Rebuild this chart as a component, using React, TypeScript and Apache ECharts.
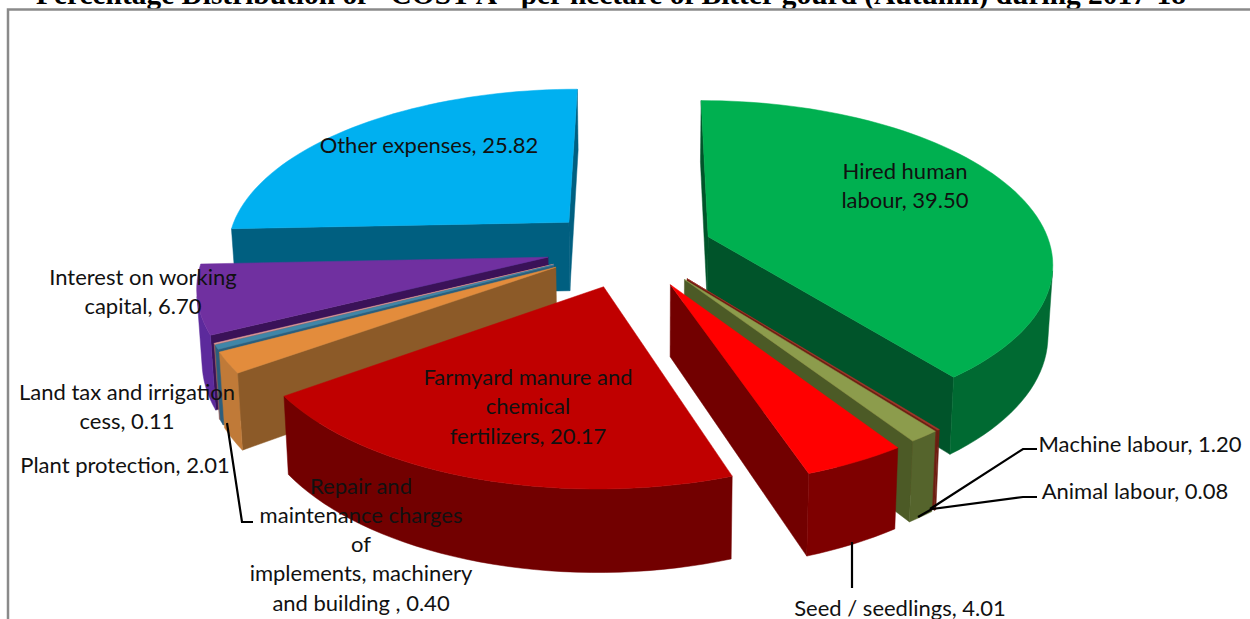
import React, { useEffect, useRef } from "react";
import * as echarts from "echarts";

const titleText = 'Percentage Distribution of "COST A" per hectare of Bitter gourd (Autumn) during 2017-18';

const categories = [
  "Hired human labour",
  "Animal labour",
  "Machine labour",
  "Seed / seedlings",
  "Farmyard manure and chemical fertilizers",
  "Plant protection",
  "Repair and maintenance charges of implements, machinery and building ",
  "Land tax and irrigation cess",
  "Interest on working capital",
  "Other expenses",
];
const seriesValues = [39.5, 0.08, 1.2, 4.01, 20.17, 2.01, 0.4, 0.11, 6.7, 25.82];

// back-to-front painting order of the slices
const paintOrder = [9, 8, 7, 6, 5, 4, 0, 1, 2, 3];

const topColors = ["#00B050", "#A8352A", "#8C9C4C", "#FF0000", "#C00000", "#E38C3C", "#3F86A8", "#D99694", "#7030A0", "#00B0F0"];
const curveColors = ["#006A32", "#6E1E12", "#55642C", "#7E0000", "#720000", "#C07A38", "#2A5F7E", "#96625F", "#5C2A9C", "#00688E"];
const radialColors = ["#00542A", "#6E1E12", "#4C5A26", "#720000", "#6A0000", "#8C5A28", "#2A5F7E", "#96625F", "#3A1258", "#005F80"];

// per-slice apex adjustment in screen pixels [dx, dy]
const apexNudge = [[5, -2], [8, 0], [8, 0], [5, 2], [-3, 2], [-9, -2], [-8, -2], [-8, -2], [-8, -2], [-8, -4]];

const labelLines: [string[], number, number][] = [
  [["Other expenses, 25.82"], 429, 144],
  [["Hired human", "labour, 39.50"], 905, 170],
  [["Interest on working", "capital, 6.70"], 143, 276],
  [["Land tax and irrigation", "cess, 0.11"], 127, 391],
  [["Plant protection, 2.01"], 125, 464],
  [["Farmyard manure and", "chemical", "fertilizers, 20.17"], 528, 376],
  [["Repair and", "maintenance charges", "of", "implements, machinery", "and building , 0.40"], 361, 485],
  [["Seed / seedlings, 4.01"], 900, 607],
  [["Machine labour, 1.20"], 1140, 443],
  [["Animal labour, 0.08"], 1135, 490],
];
const lineSteps = [29.5, 29.5, 29.5, 29, 29, 29.5, 29.3, 29.5, 29, 29];

const leaderLines: number[][][] = [
  [[1037, 449], [1023, 449], [930, 509]],
  [[1037, 497], [1023, 497], [932, 509], [918, 517]],
  [[852, 542], [852, 588]],
  [[227, 423], [242, 522], [253, 522]],
];

// perspective model of the tilted, exploded pie
const VIEW = { xc: 645, yVP: -985, depth: 1235, rx: 350, k: 0.13, h: 70, narrow: 0.012 };
const EXPLODE = 0.22;
const CENTER = { x: -0.04, z: 0 };
const WARP = (2 * Math.PI) / 180;
const RIM_X = 0.98;
const RIM_DZ = -4 / 160;

function project(X: number, Z: number, level: number): number[] {
  const s = 1 / (1 + VIEW.k * Z);
  return [
    VIEW.xc + VIEW.rx * X * s * (1 - VIEW.narrow * level),
    VIEW.yVP + (VIEW.depth + VIEW.h * level) * s,
  ];
}

function area(p: number[][]): number {
  let a = 0;
  for (let i = 0; i < p.length; i++) {
    const q = p[(i + 1) % p.length];
    a += p[i][0] * q[1] - q[0] * p[i][1];
  }
  return a / 2;
}

const total = seriesValues.reduce((a, b) => a + b, 0);
const startPct = seriesValues.map((_, i) => seriesValues.slice(0, i).reduce((a, b) => a + b, 0));

function sliceFaces(index: number, value: number) {
  const a0 = (startPct[index] / total) * Math.PI * 2;
  const a1 = a0 + (value / total) * Math.PI * 2;
  const mid = (a0 + a1) / 2;
  const ax = CENTER.x + EXPLODE * Math.sin(mid) + apexNudge[index][0] / VIEW.rx;
  const az = CENTER.z + EXPLODE * Math.cos(mid) - apexNudge[index][1] / 160;
  const steps = Math.max(2, Math.ceil((a1 - a0) / (Math.PI / 90)));
  const rim: number[][] = [];
  for (let i = 0; i <= steps; i++) {
    const raw = a0 + ((a1 - a0) * i) / steps;
    const a = raw - WARP * Math.sin(raw);
    rim.push([ax + RIM_X * Math.sin(a), az + Math.cos(a) + RIM_DZ]);
  }
  const outline = [[ax, az], ...rim];
  const faces: any[] = [];
  const poly = (pts: number[][], fill: string, w: number) => ({
    type: "polygon",
    silent: true,
    shape: { points: pts },
    style: { fill, stroke: fill, lineWidth: w },
  });
  const top = (p: number[]) => project(p[0], p[1], 0);
  const bot = (p: number[]) => project(p[0], p[1], 1);
  const addRadial = (P: number[], Q: number[], fill: string) => {
    const pts = [top(P), top(Q), bot(Q), bot(P)];
    if (area(pts) < 0) faces.push(poly(pts, fill, 0.5));
  };
  addRadial(outline[0], outline[1], radialColors[index]);
  addRadial(outline[outline.length - 1], outline[0], radialColors[index]);
  // contiguous visible stretches of the outer wall become one polygon
  let run: number[][] = [];
  const flush = () => {
    if (run.length > 1) {
      faces.push(poly([...run.map(top), ...run.slice().reverse().map(bot)], curveColors[index], 0.5));
    }
    run = [];
  };
  for (let i = 0; i < rim.length - 1; i++) {
    const P = rim[i];
    const Q = rim[i + 1];
    if (area([top(P), top(Q), bot(Q), bot(P)]) < 0) {
      if (!run.length) run.push(P);
      run.push(Q);
    } else flush();
  }
  flush();
  faces.push(poly(outline.map(top), topColors[index], 0.5));
  return faces;
}

export default function App() {
  const ref = useRef<HTMLDivElement>(null);
  useEffect(() => {
    document.body.style.margin = "0";
    document.body.style.overflow = "hidden";
    const chart = echarts.init(ref.current!, undefined, { renderer: "svg" });
    chart.setOption({
      animation: false,
      backgroundColor: "#ffffff",
      graphic: [
        {
          type: "text",
          x: 611,
          y: -6,
          silent: true,
          style: {
            text: titleText,
            fill: "#000",
            fontFamily: "Liberation Serif",
            fontWeight: "bold",
            fontSize: 29.4,
            align: "center",
            verticalAlign: "middle",
          },
        },
        { type: "polyline", silent: true, shape: { points: [[8, 619], [8, 9.5], [1250, 9.5]] }, style: { stroke: "#8a8a8a", lineWidth: 2.5, fill: "none" } },
      ],
      series: [
        {
          type: "custom",
          coordinateSystem: "none",
          silent: true,
          z: 2,
          data: paintOrder.map((i) => [i, seriesValues[i]]),
          renderItem: (_p: any, api: any) => ({
            type: "group",
            children: sliceFaces(api.value(0), api.value(1)),
          }),
        },
        {
          type: "custom",
          coordinateSystem: "none",
          silent: true,
          z: 3,
          data: leaderLines.map((_, i) => [i]),
          renderItem: (_p: any, api: any) => ({
            type: "polyline",
            silent: true,
            shape: { points: leaderLines[api.value(0)] },
            style: { stroke: "#000", lineWidth: 2.2, fill: "none" },
          }),
        },
        {
          type: "custom",
          coordinateSystem: "none",
          silent: true,
          z: 4,
          data: labelLines.map((_, i) => [i]),
          renderItem: (_p: any, api: any) => {
            const idx = api.value(0);
            const [lines, x, y] = labelLines[idx];
            return {
              type: "group",
              children: lines.map((t, j) => ({
                type: "text",
                silent: true,
                x,
                y: y + j * lineSteps[idx],
                style: {
                  text: t,
                  fill: "#111",
                  fontFamily: "Lato",
                  fontSize: 22,
                  align: "center",
                  verticalAlign: "middle",
                },
              })),
            };
          },
        },
      ],
    });
    return () => chart.dispose();
  }, []);
  return <div ref={ref} style={{ width: 1250, height: 619 }} />;
}
